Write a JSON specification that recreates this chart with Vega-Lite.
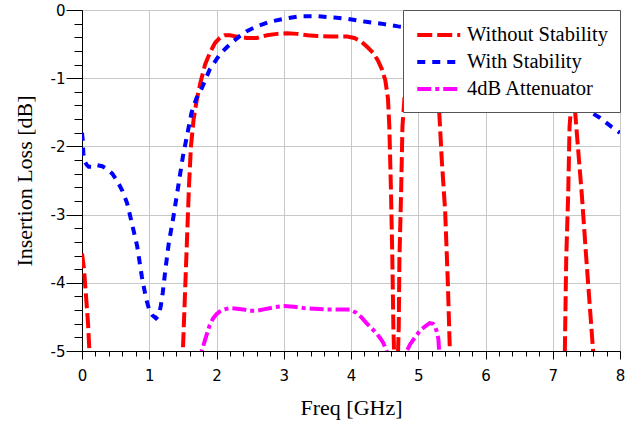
{
  "$schema": "https://vega.github.io/schema/vega-lite/v6.json",
  "width": 538,
  "height": 341,
  "autosize": {"type": "none"},
  "padding": {"left": 82, "top": 10, "right": 14, "bottom": 78},
  "background": "white",
  "view": {"stroke": "black", "strokeWidth": 1},
  "data": {
    "values": [
      {"s": "Without Stability", "f": 0.0, "l": -3.57},
      {"s": "Without Stability", "f": 0.03, "l": -3.8},
      {"s": "Without Stability", "f": 0.06, "l": -4.2},
      {"s": "Without Stability", "f": 0.09, "l": -4.6},
      {"s": "Without Stability", "f": 0.11, "l": -5.0},
      {"s": "Without Stability", "f": 0.13, "l": -5.5},
      {"s": "Without Stability", "f": 1.47, "l": -5.5},
      {"s": "Without Stability", "f": 1.5, "l": -5.0},
      {"s": "Without Stability", "f": 1.53, "l": -4.2},
      {"s": "Without Stability", "f": 1.56, "l": -3.4},
      {"s": "Without Stability", "f": 1.59, "l": -2.6},
      {"s": "Without Stability", "f": 1.62, "l": -2.0},
      {"s": "Without Stability", "f": 1.66, "l": -1.6},
      {"s": "Without Stability", "f": 1.71, "l": -1.3},
      {"s": "Without Stability", "f": 1.76, "l": -1.07},
      {"s": "Without Stability", "f": 1.83, "l": -0.8},
      {"s": "Without Stability", "f": 1.91, "l": -0.61},
      {"s": "Without Stability", "f": 1.98, "l": -0.48},
      {"s": "Without Stability", "f": 2.05, "l": -0.41},
      {"s": "Without Stability", "f": 2.12, "l": -0.37},
      {"s": "Without Stability", "f": 2.2, "l": -0.37},
      {"s": "Without Stability", "f": 2.3, "l": -0.39},
      {"s": "Without Stability", "f": 2.45, "l": -0.41},
      {"s": "Without Stability", "f": 2.6, "l": -0.41},
      {"s": "Without Stability", "f": 2.75, "l": -0.37},
      {"s": "Without Stability", "f": 2.9, "l": -0.35},
      {"s": "Without Stability", "f": 3.05, "l": -0.34},
      {"s": "Without Stability", "f": 3.2, "l": -0.35},
      {"s": "Without Stability", "f": 3.35, "l": -0.37},
      {"s": "Without Stability", "f": 3.5, "l": -0.38},
      {"s": "Without Stability", "f": 3.7, "l": -0.39},
      {"s": "Without Stability", "f": 3.94, "l": -0.39},
      {"s": "Without Stability", "f": 4.05, "l": -0.41},
      {"s": "Without Stability", "f": 4.15, "l": -0.46},
      {"s": "Without Stability", "f": 4.25, "l": -0.55},
      {"s": "Without Stability", "f": 4.33, "l": -0.63},
      {"s": "Without Stability", "f": 4.4, "l": -0.74},
      {"s": "Without Stability", "f": 4.46, "l": -0.87},
      {"s": "Without Stability", "f": 4.51, "l": -1.03},
      {"s": "Without Stability", "f": 4.55, "l": -1.3},
      {"s": "Without Stability", "f": 4.57, "l": -1.71},
      {"s": "Without Stability", "f": 4.595, "l": -2.68},
      {"s": "Without Stability", "f": 4.615, "l": -3.66},
      {"s": "Without Stability", "f": 4.63, "l": -4.64},
      {"s": "Without Stability", "f": 4.64, "l": -5.0},
      {"s": "Without Stability", "f": 4.65, "l": -5.6},
      {"s": "Without Stability", "f": 4.69, "l": -5.6},
      {"s": "Without Stability", "f": 4.7, "l": -5.0},
      {"s": "Without Stability", "f": 4.71, "l": -4.64},
      {"s": "Without Stability", "f": 4.72, "l": -3.66},
      {"s": "Without Stability", "f": 4.745, "l": -2.68},
      {"s": "Without Stability", "f": 4.765, "l": -1.71},
      {"s": "Without Stability", "f": 4.8, "l": -1.22},
      {"s": "Without Stability", "f": 4.85, "l": -0.88},
      {"s": "Without Stability", "f": 4.9, "l": -0.7},
      {"s": "Without Stability", "f": 4.97, "l": -0.57},
      {"s": "Without Stability", "f": 5.05, "l": -0.53},
      {"s": "Without Stability", "f": 5.12, "l": -0.6},
      {"s": "Without Stability", "f": 5.18, "l": -0.78},
      {"s": "Without Stability", "f": 5.23, "l": -1.02},
      {"s": "Without Stability", "f": 5.28, "l": -1.27},
      {"s": "Without Stability", "f": 5.31, "l": -1.46},
      {"s": "Without Stability", "f": 5.35, "l": -2.2},
      {"s": "Without Stability", "f": 5.4, "l": -2.95},
      {"s": "Without Stability", "f": 5.44, "l": -4.0},
      {"s": "Without Stability", "f": 5.47, "l": -5.0},
      {"s": "Without Stability", "f": 5.49, "l": -5.5},
      {"s": "Without Stability", "f": 7.16, "l": -5.5},
      {"s": "Without Stability", "f": 7.18, "l": -5.0},
      {"s": "Without Stability", "f": 7.2, "l": -3.66},
      {"s": "Without Stability", "f": 7.23, "l": -2.68},
      {"s": "Without Stability", "f": 7.25, "l": -1.71},
      {"s": "Without Stability", "f": 7.27, "l": -1.45},
      {"s": "Without Stability", "f": 7.3, "l": -1.33},
      {"s": "Without Stability", "f": 7.33, "l": -1.45},
      {"s": "Without Stability", "f": 7.35, "l": -1.71},
      {"s": "Without Stability", "f": 7.43, "l": -2.68},
      {"s": "Without Stability", "f": 7.5, "l": -3.66},
      {"s": "Without Stability", "f": 7.6, "l": -5.0},
      {"s": "Without Stability", "f": 7.62, "l": -5.3},
      {"s": "With Stability", "f": 0.0, "l": -1.8},
      {"s": "With Stability", "f": 0.01, "l": -1.9},
      {"s": "With Stability", "f": 0.02, "l": -2.1},
      {"s": "With Stability", "f": 0.04, "l": -2.22},
      {"s": "With Stability", "f": 0.07, "l": -2.27},
      {"s": "With Stability", "f": 0.1, "l": -2.3},
      {"s": "With Stability", "f": 0.15, "l": -2.3},
      {"s": "With Stability", "f": 0.2, "l": -2.27},
      {"s": "With Stability", "f": 0.3, "l": -2.29},
      {"s": "With Stability", "f": 0.37, "l": -2.33},
      {"s": "With Stability", "f": 0.45, "l": -2.4},
      {"s": "With Stability", "f": 0.52, "l": -2.5},
      {"s": "With Stability", "f": 0.6, "l": -2.65},
      {"s": "With Stability", "f": 0.67, "l": -2.83},
      {"s": "With Stability", "f": 0.74, "l": -3.12},
      {"s": "With Stability", "f": 0.82, "l": -3.46},
      {"s": "With Stability", "f": 0.89, "l": -3.91},
      {"s": "With Stability", "f": 0.95, "l": -4.22},
      {"s": "With Stability", "f": 1.0, "l": -4.4},
      {"s": "With Stability", "f": 1.05, "l": -4.48},
      {"s": "With Stability", "f": 1.1, "l": -4.52},
      {"s": "With Stability", "f": 1.14, "l": -4.48},
      {"s": "With Stability", "f": 1.17, "l": -4.35},
      {"s": "With Stability", "f": 1.2, "l": -4.15},
      {"s": "With Stability", "f": 1.24, "l": -3.81},
      {"s": "With Stability", "f": 1.29, "l": -3.42},
      {"s": "With Stability", "f": 1.36, "l": -3.03},
      {"s": "With Stability", "f": 1.43, "l": -2.59},
      {"s": "With Stability", "f": 1.5, "l": -2.15},
      {"s": "With Stability", "f": 1.56, "l": -1.85},
      {"s": "With Stability", "f": 1.63, "l": -1.5},
      {"s": "With Stability", "f": 1.7, "l": -1.3},
      {"s": "With Stability", "f": 1.78, "l": -1.15},
      {"s": "With Stability", "f": 1.9, "l": -0.87},
      {"s": "With Stability", "f": 2.05, "l": -0.65},
      {"s": "With Stability", "f": 2.15, "l": -0.55},
      {"s": "With Stability", "f": 2.25, "l": -0.46},
      {"s": "With Stability", "f": 2.35, "l": -0.38},
      {"s": "With Stability", "f": 2.45, "l": -0.31},
      {"s": "With Stability", "f": 2.6, "l": -0.24},
      {"s": "With Stability", "f": 2.8, "l": -0.17},
      {"s": "With Stability", "f": 3.0, "l": -0.13},
      {"s": "With Stability", "f": 3.25, "l": -0.09},
      {"s": "With Stability", "f": 3.5, "l": -0.09},
      {"s": "With Stability", "f": 3.75, "l": -0.11},
      {"s": "With Stability", "f": 3.95, "l": -0.13},
      {"s": "With Stability", "f": 4.2, "l": -0.17},
      {"s": "With Stability", "f": 4.45, "l": -0.2},
      {"s": "With Stability", "f": 4.7, "l": -0.24},
      {"s": "With Stability", "f": 5.0, "l": -0.27},
      {"s": "With Stability", "f": 5.5, "l": -0.35},
      {"s": "With Stability", "f": 6.0, "l": -0.48},
      {"s": "With Stability", "f": 6.5, "l": -0.68},
      {"s": "With Stability", "f": 7.0, "l": -1.02},
      {"s": "With Stability", "f": 7.2, "l": -1.2},
      {"s": "With Stability", "f": 7.4, "l": -1.4},
      {"s": "With Stability", "f": 7.55, "l": -1.49},
      {"s": "With Stability", "f": 7.7, "l": -1.58},
      {"s": "With Stability", "f": 7.87, "l": -1.71},
      {"s": "With Stability", "f": 8.0, "l": -1.8},
      {"s": "4dB Attenuator", "f": 1.76, "l": -5.3},
      {"s": "4dB Attenuator", "f": 1.78, "l": -5.0},
      {"s": "4dB Attenuator", "f": 1.82, "l": -4.87},
      {"s": "4dB Attenuator", "f": 1.86, "l": -4.74},
      {"s": "4dB Attenuator", "f": 1.9, "l": -4.62},
      {"s": "4dB Attenuator", "f": 1.95, "l": -4.52},
      {"s": "4dB Attenuator", "f": 2.0, "l": -4.46},
      {"s": "4dB Attenuator", "f": 2.05, "l": -4.42},
      {"s": "4dB Attenuator", "f": 2.12, "l": -4.39},
      {"s": "4dB Attenuator", "f": 2.2, "l": -4.37},
      {"s": "4dB Attenuator", "f": 2.3, "l": -4.38},
      {"s": "4dB Attenuator", "f": 2.4, "l": -4.39},
      {"s": "4dB Attenuator", "f": 2.5, "l": -4.41},
      {"s": "4dB Attenuator", "f": 2.6, "l": -4.41},
      {"s": "4dB Attenuator", "f": 2.7, "l": -4.39},
      {"s": "4dB Attenuator", "f": 2.85, "l": -4.36},
      {"s": "4dB Attenuator", "f": 3.0, "l": -4.34},
      {"s": "4dB Attenuator", "f": 3.15, "l": -4.35},
      {"s": "4dB Attenuator", "f": 3.29, "l": -4.37},
      {"s": "4dB Attenuator", "f": 3.45, "l": -4.38},
      {"s": "4dB Attenuator", "f": 3.6, "l": -4.39},
      {"s": "4dB Attenuator", "f": 3.8, "l": -4.39},
      {"s": "4dB Attenuator", "f": 3.98, "l": -4.39},
      {"s": "4dB Attenuator", "f": 4.08, "l": -4.44},
      {"s": "4dB Attenuator", "f": 4.15, "l": -4.5},
      {"s": "4dB Attenuator", "f": 4.23, "l": -4.59},
      {"s": "4dB Attenuator", "f": 4.3, "l": -4.66},
      {"s": "4dB Attenuator", "f": 4.38, "l": -4.74},
      {"s": "4dB Attenuator", "f": 4.44, "l": -4.82},
      {"s": "4dB Attenuator", "f": 4.48, "l": -4.88},
      {"s": "4dB Attenuator", "f": 4.53, "l": -5.0},
      {"s": "4dB Attenuator", "f": 4.55, "l": -5.3},
      {"s": "4dB Attenuator", "f": 4.8, "l": -5.3},
      {"s": "4dB Attenuator", "f": 4.83, "l": -5.0},
      {"s": "4dB Attenuator", "f": 4.88, "l": -4.9},
      {"s": "4dB Attenuator", "f": 4.93, "l": -4.83},
      {"s": "4dB Attenuator", "f": 5.02, "l": -4.71},
      {"s": "4dB Attenuator", "f": 5.1, "l": -4.64},
      {"s": "4dB Attenuator", "f": 5.17, "l": -4.59},
      {"s": "4dB Attenuator", "f": 5.22, "l": -4.6},
      {"s": "4dB Attenuator", "f": 5.25, "l": -4.64},
      {"s": "4dB Attenuator", "f": 5.28, "l": -4.73},
      {"s": "4dB Attenuator", "f": 5.3, "l": -4.83},
      {"s": "4dB Attenuator", "f": 5.31, "l": -5.0},
      {"s": "4dB Attenuator", "f": 5.32, "l": -5.3}
    ]
  },
  "layer": [
    {
      "mark": {"type": "line", "clip": true, "strokeWidth": 4},
      "encoding": {
        "x": {
          "field": "f", "type": "quantitative",
          "scale": {"domain": [0, 8], "nice": false, "zero": false},
          "axis": {
            "values": [0,1,2,3,4,5,6,7,8],
            "labelExpr": "'' + datum.value",
            "domainColor": "black",
            "ticks": true, "tickColor": "black", "tickWidth": 1, "tickSize": 8, "tickOpacity": 1,
            "labelColor": "black", "labelFont": "DejaVu Sans", "labelFontSize": 15,
            "labelFlush": false, "labelOverlap": false, "labelPadding": 9,
            "grid": true, "gridColor": "#c8c8c8", "gridWidth": 1, "gridOpacity": 1,
            "title": "Freq [GHz]", "titleColor": "black", "titleFont": "Liberation Serif",
            "titleFontSize": 22, "titleFontWeight": "normal", "titlePadding": 14
          }
        },
        "y": {
          "field": "l", "type": "quantitative",
          "scale": {"domain": [-5, 0], "nice": false, "zero": false},
          "axis": {
            "values": [0,-1,-2,-3,-4,-5],
            "labelExpr": "'' + datum.value",
            "domainColor": "black",
            "ticks": true, "tickColor": "black", "tickWidth": 1, "tickSize": 16, "tickOpacity": 1,
            "labelColor": "black", "labelFont": "DejaVu Sans", "labelFontSize": 15,
            "labelFlush": false, "labelOverlap": false, "labelPadding": 1,
            "grid": true, "gridColor": "#c8c8c8", "gridWidth": 1, "gridOpacity": 1,
            "title": "Insertion Loss [dB]", "titleColor": "black", "titleFont": "Liberation Serif",
            "titleFontSize": 22, "titleFontWeight": "normal", "titlePadding": 14
          }
        },
        "color": {
          "field": "s", "type": "nominal",
          "scale": {
            "domain": ["Without Stability", "With Stability", "4dB Attenuator"],
            "range": ["#ff0000", "#0000ff", "#ff00ff"]
          },
          "legend": {
            "title": null,
            "orient": "top-right",
            "offset": 0,
            "strokeColor": "#555555",
            "fillColor": "white",
            "padding": 12,
            "cornerRadius": 0,
            "symbolType": "M-1,0H3",
            "symbolSize": 462,
            "symbolStrokeWidth": 4,
            "labelFont": "Liberation Serif",
            "labelFontSize": 20.5,
            "labelColor": "black",
            "labelOffset": 26,
            "rowPadding": 3
          }
        },
        "strokeDash": {
          "field": "s", "type": "nominal",
          "scale": {
            "domain": ["Without Stability", "With Stability", "4dB Attenuator"],
            "range": [[15, 5], [8, 7], [14, 4, 4, 4]]
          },
          "legend": {
            "title": null,
            "orient": "top-right",
            "offset": 0,
            "strokeColor": "#555555",
            "fillColor": "white",
            "padding": 12,
            "cornerRadius": 0,
            "symbolType": "M-1,0H3",
            "symbolSize": 462,
            "symbolStrokeWidth": 4,
            "labelFont": "Liberation Serif",
            "labelFontSize": 20.5,
            "labelColor": "black",
            "labelOffset": 26,
            "rowPadding": 3
          }
        }
      }
    },
    {
      "mark": {"type": "line", "opacity": 0},
      "encoding": {
        "x": {
          "field": "f", "type": "quantitative",
          "scale": {"domain": [0, 8], "nice": false, "zero": false},
          "axis": {
            "orient": "bottom", "values": [0.2,0.4,0.6,0.8,1.2,1.4,1.6,1.8,2.2,2.4,2.6,2.8,3.2,3.4,3.6,3.8,4.2,4.4,4.6,4.8,5.2,5.4,5.6,5.8,6.2,6.4,6.6,6.8,7.2,7.4,7.6,7.8],
            "labels": false, "grid": false, "domain": false,
            "ticks": true, "tickColor": "black", "tickWidth": 1, "tickSize": 5, "tickOpacity": 1,
            "title": null
          }
        },
        "y": {
          "field": "l", "type": "quantitative",
          "scale": {"domain": [-5, 0], "nice": false, "zero": false},
          "axis": {
            "orient": "left", "values": [-0.2,-0.4,-0.6,-0.8,-1.2,-1.4,-1.6,-1.8,-2.2,-2.4,-2.6,-2.8,-3.2,-3.4,-3.6,-3.8,-4.2,-4.4,-4.6,-4.8],
            "labels": false, "grid": false, "domain": false,
            "ticks": true, "tickColor": "black", "tickWidth": 1, "tickSize": 8, "tickOpacity": 1,
            "title": null
          }
        }
      }
    }
  ],
  "resolve": {
    "scale": {"x": "independent", "y": "independent"},
    "axis": {"x": "independent", "y": "independent"}
  }
}
